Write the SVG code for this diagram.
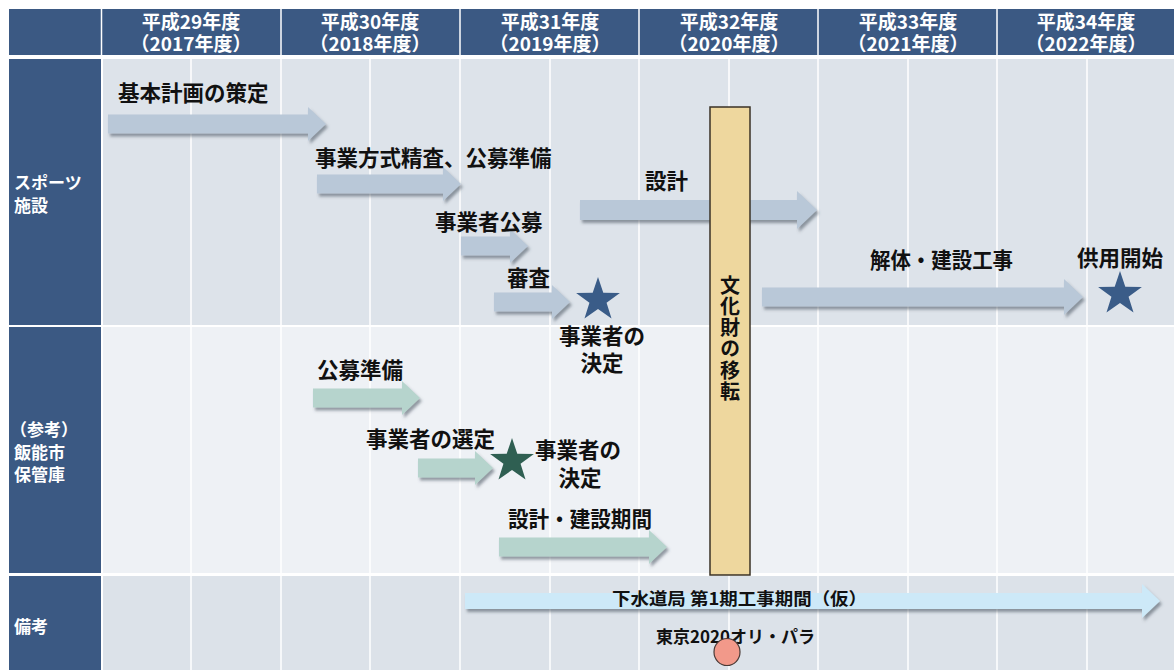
<svg xmlns="http://www.w3.org/2000/svg" xmlns:xlink="http://www.w3.org/1999/xlink" width="1174" height="671" viewBox="0 0 1174 671">
<style>
.hdr{fill:#3b5983}
.t{font-family:"Noto Sans CJK JP","Noto Sans CJK SC",sans-serif;font-weight:bold}
.ht{fill:#fff;font-size:19px;text-anchor:middle}
.lt{fill:#fff;font-size:17px}
.lbl{fill:#111;font-size:21.5px}
.rem{fill:#111;font-size:17px}
.vl{stroke:#fff;stroke-width:1.5}
.ab{fill:#b9c8d8;filter:url(#sh)}
.ag{fill:#b6d4cd;filter:url(#sh)}
.ac{fill:#cde9f8;filter:url(#sh)}
</style>
<defs>
<filter id="sh" x="-10%" y="-50%" width="120%" height="200%">
<feDropShadow dx="2" dy="3" stdDeviation="1.8" flood-color="#44505c" flood-opacity="0.55"/>
</filter>
<path id="star" d="M0,-23 L5.29,-7.28 L21.88,-7.11 L8.56,2.78 L13.52,18.61 L0,9 L-13.52,18.61 L-8.56,2.78 L-21.88,-7.11 L-5.29,-7.28 Z"/>
</defs>
<rect width="1174" height="671" fill="#fff"/>
<g id="header">
<rect x="9" y="9" width="1165" height="46" class="hdr"/>
<g class="vl"><line x1="101.5" y1="9" x2="101.5" y2="55"/><line x1="281" y1="9" x2="281" y2="55"/><line x1="460" y1="9" x2="460" y2="55"/><line x1="639" y1="9" x2="639" y2="55"/><line x1="818" y1="9" x2="818" y2="55"/><line x1="997" y1="9" x2="997" y2="55"/></g>
<g class="t ht">
<text x="191" y="29">平成29年度<tspan x="191" y="51">（2017年度）</tspan></text>
<text x="370" y="29">平成30年度<tspan x="370" y="51">（2018年度）</tspan></text>
<text x="550" y="29">平成31年度<tspan x="550" y="51">（2019年度）</tspan></text>
<text x="729" y="29">平成32年度<tspan x="729" y="51">（2020年度）</tspan></text>
<text x="908" y="29">平成33年度<tspan x="908" y="51">（2021年度）</tspan></text>
<text x="1086" y="29">平成34年度<tspan x="1086" y="51">（2022年度）</tspan></text>
</g>
</g>
<g id="rows">
<rect x="9" y="59" width="92" height="266" class="hdr"/>
<rect x="103" y="59" width="1071" height="266" fill="#dde3ea"/>
<rect x="9" y="327" width="92" height="246" class="hdr"/>
<rect x="103" y="327" width="1071" height="246" fill="#eef1f5"/>
<rect x="9" y="576" width="92" height="94" class="hdr"/>
<rect x="103" y="576" width="1071" height="94" fill="#dce2e9"/>
<g class="vl">
<line x1="191" y1="59" x2="191" y2="670"/><line x1="281" y1="59" x2="281" y2="670"/><line x1="370" y1="59" x2="370" y2="670"/><line x1="460" y1="59" x2="460" y2="670"/><line x1="550" y1="59" x2="550" y2="670"/><line x1="639" y1="59" x2="639" y2="670"/><line x1="729" y1="59" x2="729" y2="670"/><line x1="818" y1="59" x2="818" y2="670"/><line x1="908" y1="59" x2="908" y2="670"/><line x1="997" y1="59" x2="997" y2="670"/><line x1="1087" y1="59" x2="1087" y2="670"/>
</g>
<g class="t lt">
<text x="14" y="189">スポーツ<tspan x="14" y="212">施設</tspan></text>
<text x="10" y="436">（参考）<tspan x="14" y="459">飯能市</tspan><tspan x="14" y="481">保管庫</tspan></text>
<text x="14" y="633">備考</text>
</g>
</g>
<g id="connectors">
<path class="ab" d="M108,114.5 L308,114.5 L308,107 L326,124 L308,141 L308,133.5 L108,133.5 Z"/>
<path class="ab" d="M317,174.5 L443,174.5 L443,167 L461,184 L443,201 L443,193.5 L317,193.5 Z"/>
<path class="ab" d="M461,236.5 L510,236.5 L510,229 L528,246 L510,263 L510,255.5 L461,255.5 Z"/>
<path class="ab" d="M494,292.5 L552,292.5 L552,285 L570,302 L552,319 L552,311.5 L494,311.5 Z"/>
<path class="ab" d="M580,200 L797,200 L797,191 L817,210 L797,229 L797,220 L580,220 Z"/>
<path class="ab" d="M762,287.5 L1064,287.5 L1064,279 L1083,297 L1064,315 L1064,306.5 L762,306.5 Z"/>
<path class="ag" d="M313,388.5 L402,388.5 L402,381 L420,398 L402,415 L402,407.5 L313,407.5 Z"/>
<path class="ag" d="M418,458.5 L475,458.5 L475,451 L493,468 L475,485 L475,477.5 L418,477.5 Z"/>
<path class="ag" d="M499,537.5 L649,537.5 L649,530 L667,547 L649,564 L649,556.5 L499,556.5 Z"/>
<path class="ac" d="M465,593 L1142,593 L1142,584 L1160,601 L1142,618 L1142,609 L465,609 Z"/>
</g>
<g id="bunkazai">
<rect x="710" y="107" width="40" height="468" fill="#eed79e" stroke="#3a3226" stroke-width="1.5"/>
<text class="t" x="730" y="275" font-size="20" fill="#111" writing-mode="vertical-rl" letter-spacing="1.3">文化財の移転</text>
</g>
<g id="labels" class="t lbl">
<text x="118" y="101">基本計画の策定</text>
<text x="315" y="166">事業方式精査、公募準備</text>
<text x="645" y="189">設計</text>
<text x="435" y="230">事業者公募</text>
<text x="507" y="286">審査</text>
<text x="602" y="344" text-anchor="middle">事業者の<tspan x="602" y="371">決定</tspan></text>
<text x="870" y="268" textLength="143" lengthAdjust="spacingAndGlyphs">解体・建設工事</text>
<text x="1077" y="266">供用開始</text>
<text x="317" y="378">公募準備</text>
<text x="366" y="447">事業者の選定</text>
<text x="578" y="458" text-anchor="middle">事業者の<tspan x="580" y="486">決定</tspan></text>
<text x="508" y="527" textLength="144" lengthAdjust="spacingAndGlyphs">設計・建設期間</text>
</g>
<g id="stars">
<use href="#star" x="598" y="300" fill="#3a5c88"/>
<use href="#star" x="1120" y="294" fill="#3a5c88"/>
<use href="#star" x="512" y="461" fill="#2f5f52"/>
</g>
<g id="remarks" class="t rem">
<text x="612" y="605" textLength="255" lengthAdjust="spacingAndGlyphs">下水道局 第1期工事期間（仮）</text>
<text x="656" y="643" textLength="159" lengthAdjust="spacingAndGlyphs">東京2020オリ・パラ</text>
<ellipse cx="727" cy="652" rx="13" ry="13.5" fill="#f2998a" stroke="#4a3a36" stroke-width="1.2"/>
</g>
</svg>
